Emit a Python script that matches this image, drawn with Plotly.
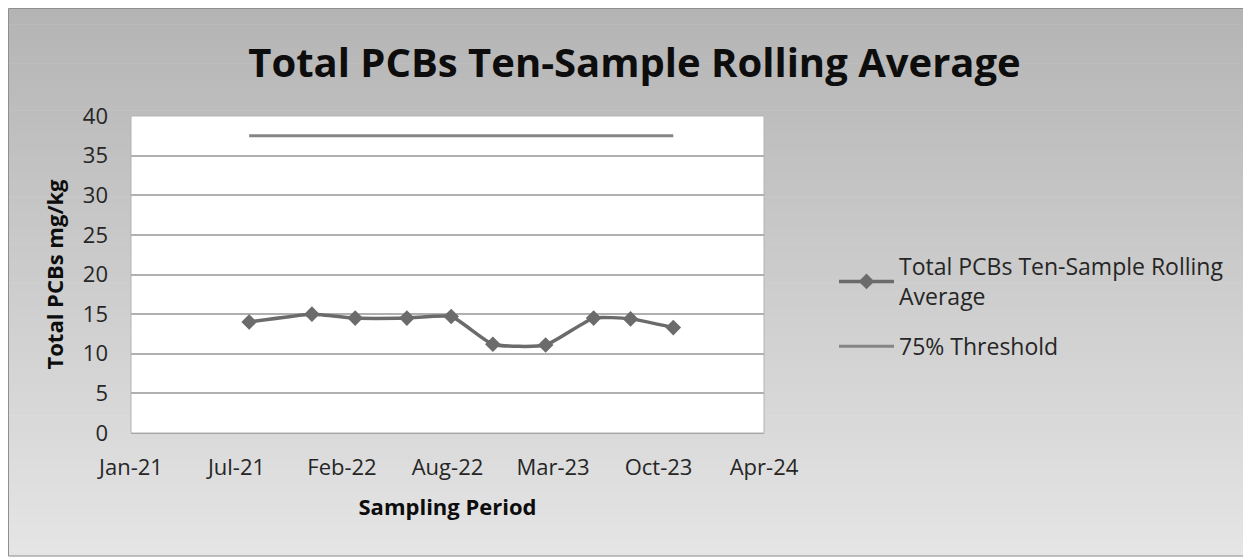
import plotly.graph_objects as go

# ---- data ----
sample_dates = ["2021-08-17", "2021-12-14", "2022-03-06", "2022-06-12", "2022-09-04",
                "2022-11-22", "2023-03-02", "2023-06-01", "2023-08-10", "2023-10-30"]
rolling_avg = [14.0, 15.0, 14.5, 14.5, 14.7, 11.2, 11.1, 14.5, 14.4, 13.3]
threshold_dates = ["2021-08-17", "2023-10-30"]
threshold_vals = [37.5, 37.5]
tick_dates = ["2021-01-05", "2021-07-24", "2022-02-09", "2022-08-28",
              "2023-03-16", "2023-10-02", "2024-04-19"]
tick_labels = ["Jan-21", "Jul-21", "Feb-22", "Aug-22", "Mar-23", "Oct-23", "Apr-24"]
y_ticks = [0, 5, 10, 15, 20, 25, 30, 35, 40]

W, H = 1251, 557
OFF = 8  # page body margin
# desired plot area in page pixels
PX0, PX1, PY0, PY1 = 131, 764, 116, 433
L, T = PX0 - OFF, PY0 - OFF
PW, PH = PX1 - PX0, PY1 - PY0
R, B = W - L - PW, H - T - PH


def px_x(p):
    return (p - PX0) / PW


def px_y(p):
    return (PY1 - p) / PH


fig = go.Figure()
fig.add_trace(go.Scatter(
    x=sample_dates, y=rolling_avg, mode="lines+markers",
    name="Total PCBs Ten-Sample Rolling<br>Average", legendgroup="a",
    line=dict(color="#6b6b6b", width=3.5, shape="spline", smoothing=0.5),
    marker=dict(symbol="diamond", size=12, color="#6b6b6b"),
))
fig.add_trace(go.Scatter(
    x=threshold_dates, y=threshold_vals, mode="lines",
    name="75% Threshold", legendgroup="b",
    line=dict(color="#858585", width=3),
))

shapes = []
top_px, bot_px = 8.5, 556
N = 70
c_top, c_bot = 180, 229
for i in range(N):
    y0 = top_px + (bot_px - top_px) * i / N
    y1 = top_px + (bot_px - top_px) * (i + 1) / N
    c = int(round(c_top + (c_bot - c_top) * (i + 0.5) / N))
    shapes.append(dict(type="rect", xref="paper", yref="paper", layer="below",
                       x0=px_x(8.5), x1=px_x(1250), y0=px_y(y1 + 0.6), y1=px_y(y0),
                       fillcolor=f"rgb({c},{c},{c})", line=dict(width=0)))
shapes.append(dict(type="rect", xref="paper", yref="paper", layer="below",
                   x0=0, x1=1, y0=0, y1=1, fillcolor="white",
                   line=dict(color="#b3b3b3", width=1)))
shapes.append(dict(type="rect", xref="paper", yref="paper", layer="below",
                   x0=px_x(8.5), x1=px_x(1250), y0=px_y(556), y1=px_y(8.5),
                   fillcolor="rgba(0,0,0,0)", line=dict(color="#8f8f8f", width=1)))

fig.update_layout(
    width=W, height=H,
    margin=dict(l=L, r=R, t=T, b=B, autoexpand=False),
    paper_bgcolor="white", plot_bgcolor="white",
    shapes=shapes,
    font=dict(family="Open Sans", color="#262626"),
    title=dict(text="<b>Total PCBs Ten-Sample Rolling Average</b>",
               xref="container", yref="container",
               x=(634.5 - OFF) / W, xanchor="center",
               y=1 - (63 - OFF) / H, yanchor="middle",
               font=dict(family="Open Sans", size=40, color="#0d0d0d")),
    showlegend=True,
    legend=dict(x=px_x(834), xanchor="left", y=px_y(245), yanchor="top",
                bgcolor="rgba(0,0,0,0)", font=dict(size=23, color="#262626"),
                itemwidth=55, tracegroupgap=17),
    xaxis=dict(type="date", range=[tick_dates[0], tick_dates[-1]],
               tickvals=tick_dates, ticktext=tick_labels,
               showgrid=False, zeroline=False,
               showline=True, linecolor="#a6a6a6", linewidth=1,
               ticks="", ticklabelstandoff=15,
               tickfont=dict(size=22, color="#262626"),
               title=dict(text="<b>Sampling Period</b>", standoff=19,
                          font=dict(size=22, color="#0d0d0d"))),
    yaxis=dict(range=[0, 40], tickvals=y_ticks,
               showgrid=True, gridcolor="#b0b0b0", gridwidth=1.5,
               zeroline=False, showline=False,
               ticks="", ticklabelstandoff=22,
               tickfont=dict(size=22, color="#262626"),
               title=dict(text="<b>Total PCBs mg/kg</b>", standoff=13,
                          font=dict(size=22, color="#0d0d0d"))),
)

fig.write_html("out.html")
